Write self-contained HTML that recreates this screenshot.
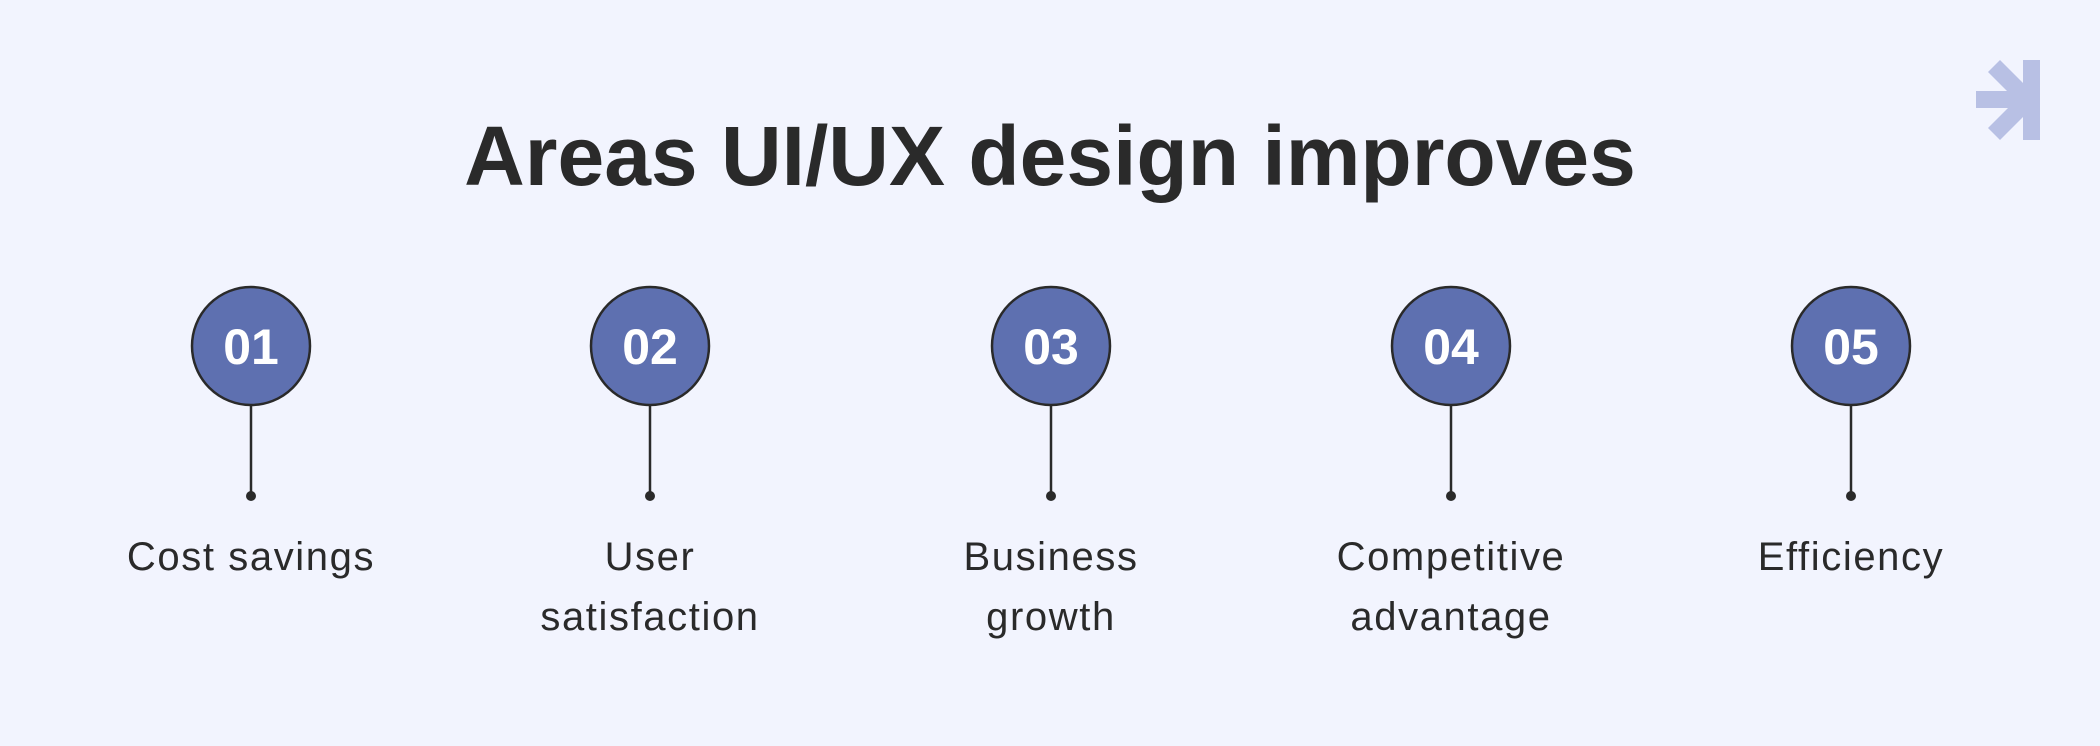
<!DOCTYPE html>
<html><head><meta charset="utf-8"><style>
html,body{margin:0;padding:0}
body{width:2100px;height:746px;background:#f2f4fe;position:relative;overflow:hidden;font-family:"Liberation Sans",sans-serif;color:#2a2a2a}
.t{position:absolute;left:0;width:2100px;top:106px;text-align:center;font-size:84px;font-weight:bold;line-height:100px;letter-spacing:0px}
.l{position:absolute;width:400px;text-align:center;font-size:40px;line-height:60px;top:527px;letter-spacing:1.6px}
</style></head><body>
<div class="t">Areas UI/UX design improves</div>
<svg width="2100" height="746" style="position:absolute;left:0;top:0">
<g fill="#b8c0e4">
<rect x="2023" y="60" width="17" height="80"/>
<rect x="1976" y="91" width="50" height="17"/>
<polygon points="1988,72 2000,60 2030,90 2018,102"/>
<polygon points="1988,128 2000,140 2030,110 2018,98"/>
</g>
<g font-family="Liberation Sans" font-weight="bold" font-size="50" fill="#fff" text-anchor="middle">
<line x1="251" y1="405" x2="251" y2="496" stroke="#2a2a2a" stroke-width="2.5"/><circle cx="251" cy="346" r="59" fill="#5e70b0" stroke="#2a2a2a" stroke-width="2.5"/><circle cx="251" cy="496" r="5" fill="#2a2a2a"/><text x="251" y="364">01</text>
<line x1="650" y1="405" x2="650" y2="496" stroke="#2a2a2a" stroke-width="2.5"/><circle cx="650" cy="346" r="59" fill="#5e70b0" stroke="#2a2a2a" stroke-width="2.5"/><circle cx="650" cy="496" r="5" fill="#2a2a2a"/><text x="650" y="364">02</text>
<line x1="1051" y1="405" x2="1051" y2="496" stroke="#2a2a2a" stroke-width="2.5"/><circle cx="1051" cy="346" r="59" fill="#5e70b0" stroke="#2a2a2a" stroke-width="2.5"/><circle cx="1051" cy="496" r="5" fill="#2a2a2a"/><text x="1051" y="364">03</text>
<line x1="1451" y1="405" x2="1451" y2="496" stroke="#2a2a2a" stroke-width="2.5"/><circle cx="1451" cy="346" r="59" fill="#5e70b0" stroke="#2a2a2a" stroke-width="2.5"/><circle cx="1451" cy="496" r="5" fill="#2a2a2a"/><text x="1451" y="364">04</text>
<line x1="1851" y1="405" x2="1851" y2="496" stroke="#2a2a2a" stroke-width="2.5"/><circle cx="1851" cy="346" r="59" fill="#5e70b0" stroke="#2a2a2a" stroke-width="2.5"/><circle cx="1851" cy="496" r="5" fill="#2a2a2a"/><text x="1851" y="364">05</text>
</g>
</svg>
<div class="l" style="left:51px">Cost savings</div>
<div class="l" style="left:450px">User<br>satisfaction</div>
<div class="l" style="left:851px">Business<br>growth</div>
<div class="l" style="left:1251px">Competitive<br>advantage</div>
<div class="l" style="left:1651px">Efficiency</div>
</body></html>
